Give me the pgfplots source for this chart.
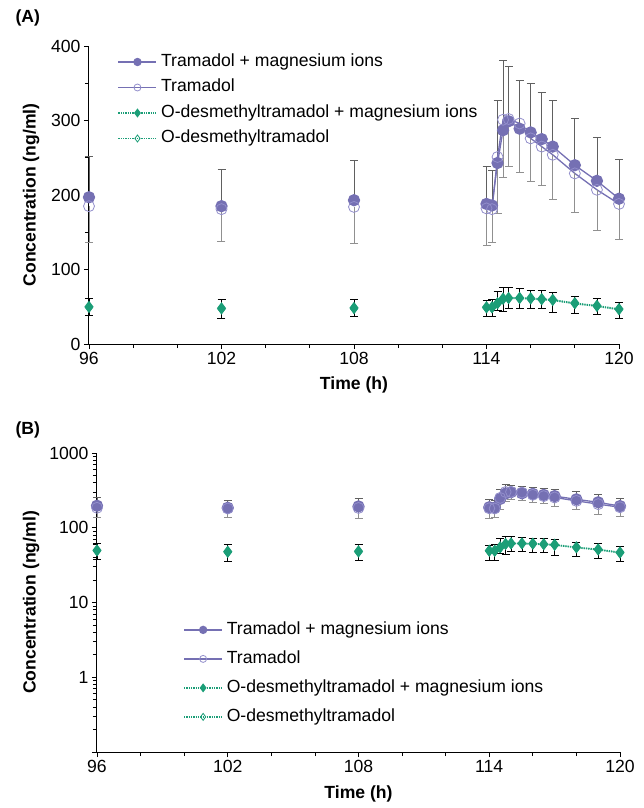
\documentclass[border=0pt]{standalone}
\usepackage{pgfplots}
\pgfplotsset{compat=1.18}
\usepackage{pgfplotstable}
\usepackage{fontspec}
\setmainfont{Liberation Sans}

\definecolor{tram}{HTML}{7570B3}
\definecolor{tramlt}{HTML}{928ECB}
\definecolor{odt}{HTML}{1B9E77}
\definecolor{errg}{HTML}{606060}

% time, tramadol+Mg (upper sd), tramadol (lower sd), ODT+Mg (upper sd), ODT (lower sd)
\pgfplotstableread{
t      TM   TMe  T    Te   OM    OMe  O     Oe
96     197  55   185  49   50    11   49    11
99     nan  0    nan  0    nan   0    nan   0
102    185  49   181  43   48    12   47    12
105    nan  0    nan  0    nan   0    nan   0
108    193  53   184  49   48.5  11   47.5  11
111    nan  0    nan  0    nan   0    nan   0
114    188  51   182  50   49.5  9    48.5  12
114.25 186  47   181  44   49.5  10   48.5  12
114.5  243  84   251  76   55    16   54    9
114.75 287  94   301  77   61    15   60    16
115    299  73   302  64   62    14   61    13
115.5  289  65   296  66   62    12   61    13
116    284  66   276  58   61.5  11   60.5  13
116.5  275  63   265  52   60.5  12   59.5  12
117    265  62   254  60   59.5  10   58.5  16
118    240  63   229  52   55    9    54    13
119    219  58   207  54   51.5  10   50.5  11
120    195  53   188  48   47    9    46    11
}\pk

\pgfplotsset{
  pk/.style={
    scale only axis,
    axis lines=left,
    axis line style={-, line width=1pt, black},
    tick align=outside,
    major tick length=5pt,
    minor tick length=4pt,
    tick style={black, line width=0.8pt},
    xmin=96, xmax=120,
    xtick={96,102,...,120},
    minor xtick={98,100,104,106,110,112,116,118},
    clip=false,
    unbounded coords=jump,
    xlabel={\bfseries Time (h)},
    ylabel={\bfseries Concentration (ng/ml)},
    /pgf/number format/assume math mode=true,
    legend cell align=left,
    legend image code/.code={\draw[mark repeat=2,mark phase=2,#1] plot coordinates {(0pt,0pt) (19pt,0pt) (38pt,0pt)};},
    legend image post style={mark size=3.5pt},
  },
  tmplot/.style={tram, line width=1.3pt, mark=*, mark size=5.5pt,
    mark options={solid, fill=tram, draw=tram},
    error bars/.cd, y dir=plus, y explicit,
    error bar style={errg, line width=0.8pt},
    error mark options={rotate=90, errg, mark size=4pt, line width=0.8pt}},
  tplot/.style={tram, line width=1.3pt, mark=o, mark size=5.5pt,
    mark options={solid, draw=tramlt, line width=0.8pt},
    error bars/.cd, y dir=minus, y explicit,
    error bar style={errg!70, line width=0.8pt},
    error mark options={rotate=90, errg!70, mark size=4pt, line width=0.8pt}},
  omplot/.style={odt, densely dotted, line width=1.3pt, mark=diamond*, mark size=5pt,
    mark options={solid, fill=odt, draw=odt},
    error bars/.cd, y dir=plus, y explicit,
    error bar style={black, solid, line width=0.8pt},
    error mark options={rotate=90, black, solid, mark size=4pt, line width=0.8pt}},
  oplot/.style={odt, densely dotted, line width=1.3pt, mark=diamond, mark size=5pt,
    mark options={solid, draw=odt, line width=0.8pt},
    error bars/.cd, y dir=minus, y explicit,
    error bar style={black, solid, line width=0.8pt},
    error mark options={rotate=90, black, solid, mark size=4pt, line width=0.8pt}},
}

\begin{document}
\begin{tikzpicture}[font=\fontsize{17.6}{21}\selectfont]
\begin{axis}[pk, name=A, at={(0,0)}, anchor=south west,
  width=530pt, height=298pt,
  ymin=0, ymax=400, ytick={0,100,...,400}, minor ytick={50,150,...,350},
  ylabel style={at={(axis description cs:-0.109,0.5)}, anchor=center},
  xlabel style={at={(axis description cs:0.5,-0.137)}, anchor=center},
  legend style={at={(0.054,0.978)}, anchor=north west, draw=none, fill=none,
    inner sep=0pt, row sep=7pt,
    nodes={inner sep=1pt, text height=12.5pt, text depth=4pt},
    /tikz/every odd column/.append style={column sep=3pt}},
]
\addplot[tmplot] table[x=t, y=TM, y error=TMe] {\pk};
\addplot[tplot] table[x=t, y=T, y error=Te] {\pk};
\addplot[omplot] table[x=t, y=OM, y error=OMe] {\pk};
\addplot[oplot] table[x=t, y=O, y error=Oe] {\pk};
\legend{Tramadol + magnesium ions, Tramadol, O-desmethyltramadol + magnesium ions, O-desmethyltramadol}
\end{axis}

\begin{axis}[pk, name=B, at={(8pt,-109pt)}, anchor=north west,
  width=523pt, height=299pt,
  ymode=log, ymin=0.1, ymax=1000,
  ytick={0.1,1,10,100,1000}, yticklabels={,1,10,100,1000},
  ylabel style={at={(axis description cs:-0.126,0.5)}, anchor=center},
  xlabel style={at={(axis description cs:0.5,-0.14)}, anchor=center},
  legend style={at={(0.165,0.44)}, anchor=north west, draw=none, fill=none,
    inner sep=0pt, row sep=10.5pt,
    nodes={inner sep=1pt, text height=12.5pt, text depth=4pt},
    /tikz/every odd column/.append style={column sep=3pt}},
]
\addplot[tmplot] table[x=t, y=TM, y error=TMe] {\pk};
\addplot[tplot] table[x=t, y=T, y error=Te] {\pk};
\addplot[omplot] table[x=t, y=OM, y error=OMe] {\pk};
\addplot[oplot] table[x=t, y=O, y error=Oe] {\pk};
\legend{Tramadol + magnesium ions, Tramadol, O-desmethyltramadol + magnesium ions, O-desmethyltramadol}
\end{axis}

\node[anchor=west, font=\fontsize{17.6}{21}\selectfont\bfseries] at ([xshift=-77pt,yshift=28pt]A.north west) {(A)};
\node[anchor=west, font=\fontsize{17.6}{21}\selectfont\bfseries] at ([xshift=-85pt,yshift=23pt]B.north west) {(B)};

\pgfresetboundingbox
\path ([xshift=-89pt,yshift=344pt]A.south west) rectangle ([xshift=555pt,yshift=-464pt]A.south west);
\end{tikzpicture}
\end{document}
